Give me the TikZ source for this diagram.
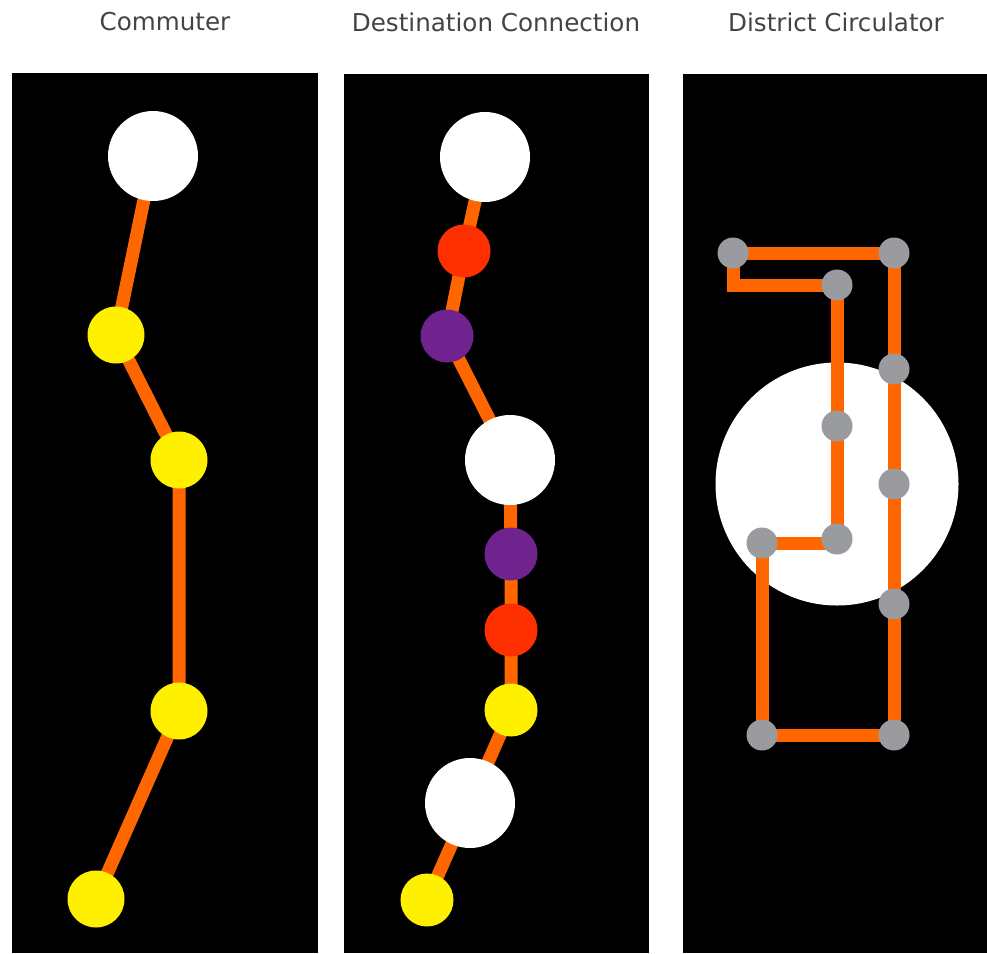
\documentclass[tikz,border=0pt]{standalone}
\usepackage{fontspec}
\setmainfont{DejaVu Sans}
\definecolor{line}{HTML}{FF6600}
\definecolor{yel}{HTML}{FFF000}
\definecolor{redn}{HTML}{FF3000}
\definecolor{pur}{HTML}{70228F}
\definecolor{gry}{HTML}{999B9E}
\definecolor{txt}{HTML}{444444}
\tikzset{
 stn/.style={circle,draw=none,inner sep=0pt,minimum size=#1},
 big/.style={stn=90,fill=white},
 ys/.style={stn=57,fill=yel},
 yt/.style={stn=53,fill=yel},
 rs/.style={stn=53,fill=redn},
 ps/.style={stn=53,fill=pur},
 gs/.style={stn=31,fill=gry},
 route/.style={draw=line,line width=13,line cap=butt,line join=miter},
 title/.style={text=txt,font=\fontsize{24.6}{28}\selectfont,anchor=center}
}
\begin{document}
\begin{tikzpicture}[x=1pt,y=-1pt]
\useasboundingbox (0,0) rectangle (987,953);
\fill[white] (0,0) rectangle (987,953);
\node[title] (t1) at (165,22) {Commuter};
\node[title] (t2) at (496,22) {Destination Connection};
\node[title] (t3) at (836,22) {District Circulator};
\fill[black] (12,73) rectangle (318,953);
\fill[black] (344,74) rectangle (649,953);
\fill[black] (683,74) rectangle (987,953);
% Commuter
\coordinate (a1) at (153,156);
\coordinate (a2) at (116,335);
\coordinate (a3) at (179,460);
\coordinate (a4) at (179,711);
\coordinate (a5) at (96,899);
\draw[route] (a1) -- (a2) -- (a3) -- (a4) -- (a5);
\node[big] (A1) at (a1) {};
\node[ys] (A2) at (a2) {};
\node[ys] (A3) at (a3) {};
\node[ys] (A4) at (a4) {};
\node[ys] (A5) at (a5) {};
% Destination Connection
\coordinate (b1) at (485,157);
\coordinate (b2) at (464,251);
\coordinate (b3) at (447,336);
\coordinate (b4) at (510,460);
\coordinate (b5) at (511,554);
\coordinate (b6) at (511,630);
\coordinate (b7) at (511,710);
\coordinate (b8) at (470,803);
\coordinate (b9) at (427,900);
\draw[route] (b1) -- (b2) -- (b3) -- (b4) -- (b5) -- (b6) -- (b7) -- (b8) -- (b9);
\node[big] (B1) at (b1) {};
\node[rs] (B2) at (b2) {};
\node[ps] (B3) at (b3) {};
\node[big] (B4) at (b4) {};
\node[ps] (B5) at (b5) {};
\node[rs] (B6) at (b6) {};
\node[yt] (B7) at (b7) {};
\node[big] (B8) at (b8) {};
\node[yt] (B9) at (b9) {};
% District Circulator
\node[stn=243,fill=white] (C0) at (837,484) {};
\coordinate (c1) at (733,253);
\coordinate (c2) at (894,253);
\coordinate (c3) at (894,369);
\coordinate (c4) at (894,484);
\coordinate (c5) at (894,604);
\coordinate (c6) at (894,735);
\coordinate (c7) at (762,735);
\coordinate (c8) at (762,543);
\coordinate (c9) at (837,539);
\coordinate (c10) at (837,426);
\coordinate (c11) at (837,285);
\coordinate (cc) at (733,285);
\coordinate (cd) at (837,543);
\draw[route] (c1) -- (c2) -- (c6) -- (c7) -- (c8) -- (cd) -- (c11) -- (cc) -- cycle;
\node[gs] (C1) at (c1) {};
\node[gs] (C2) at (c2) {};
\node[gs] (C3) at (c3) {};
\node[gs] (C4) at (c4) {};
\node[gs] (C5) at (c5) {};
\node[gs] (C6) at (c6) {};
\node[gs] (C7) at (c7) {};
\node[gs] (C8) at (c8) {};
\node[gs] (C9) at (c9) {};
\node[gs] (C10) at (c10) {};
\node[gs] (C11) at (c11) {};
\end{tikzpicture}
\end{document}
